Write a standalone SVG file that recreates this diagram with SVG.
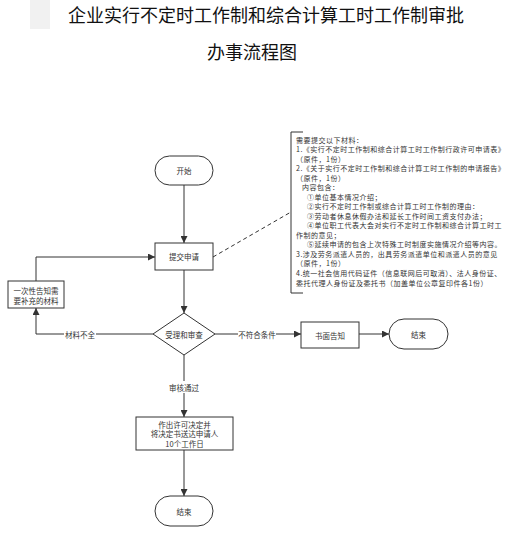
<svg xmlns="http://www.w3.org/2000/svg" width="524" height="548" viewBox="0 0 524 548">
<style>
.t{font-family:"Noto Sans CJK SC","Liberation Sans",sans-serif;fill:#333;}
.title{font-family:"Noto Sans CJK SC","Liberation Sans",sans-serif;fill:#111;font-size:18px;text-anchor:middle;}
.n{fill:#fff;stroke:#333;stroke-width:1;}
.nt{font-size:7.5px;text-anchor:middle;dominant-baseline:central;}
.ln{fill:none;stroke:#333;stroke-width:1;}
.lbl{font-size:7.5px;text-anchor:middle;dominant-baseline:central;}
.note{font-size:7px;letter-spacing:0.5px;}
</style>
<defs>
<marker id="ah" viewBox="0 0 10 10" refX="10" refY="5" markerWidth="7" markerHeight="7" markerUnits="userSpaceOnUse" orient="auto">
<path d="M0,0 L10,5 L0,10 z" fill="#333"/>
</marker>
</defs>
<rect width="524" height="548" fill="#fff"/>
<rect x="30" y="0" width="20" height="29" fill="#f1f1f1"/>
<text class="title" x="266" y="22">企业实行不定时工作制和综合计算工时工作制审批</text>
<text class="title" x="252" y="59">办事流程图</text>

<g id="connectors">
<line class="ln" x1="184" y1="185" x2="184" y2="243" marker-end="url(#ah)"/>
<line class="ln" x1="184" y1="270" x2="184" y2="313" marker-end="url(#ah)"/>
<polyline class="ln" points="153,334 36,334 36,308" marker-end="url(#ah)"/>
<polyline class="ln" points="36,281 36,257 155,257" marker-end="url(#ah)"/>
<line class="ln" x1="215" y1="334" x2="301" y2="334" marker-end="url(#ah)"/>
<line class="ln" x1="359" y1="334" x2="389" y2="334" marker-end="url(#ah)"/>
<line class="ln" x1="184" y1="355" x2="184" y2="417" marker-end="url(#ah)"/>
<line class="ln" x1="184" y1="450" x2="184" y2="496" marker-end="url(#ah)"/>
<line class="ln" x1="213" y1="257" x2="291" y2="212" stroke-dasharray="4,3"/>
<rect x="64" y="328" width="32" height="12" fill="#fff"/>
<text class="t lbl" x="80" y="334">材料不全</text>
<rect x="238" y="328" width="38" height="12" fill="#fff"/>
<text class="t lbl" x="257" y="334">不符合条件</text>
<rect x="168" y="381" width="32" height="12" fill="#fff"/>
<text class="t lbl" x="184" y="387">审核通过</text>
</g>

<g id="start">
<rect class="n" x="155" y="156" width="58" height="29" rx="14.5"/>
<text class="t nt" x="184" y="170.5">开始</text>
</g>
<g id="submit">
<rect class="n" x="155" y="243" width="58" height="27"/>
<text class="t nt" x="184" y="256.5">提交申请</text>
</g>
<g id="notify">
<rect class="n" x="8" y="281" width="56" height="27"/>
<text class="t nt" x="36" y="290">一次性告知需</text>
<text class="t nt" x="36" y="300">要补充的材料</text>
</g>
<g id="review">
<polygon class="n" points="184,313 215,334 184,355 153,334"/>
<text class="t nt" x="184" y="334">受理和审查</text>
</g>
<g id="written">
<rect class="n" x="301" y="322" width="58" height="26"/>
<text class="t nt" x="330" y="335">书面告知</text>
</g>
<g id="end1">
<rect class="n" x="389" y="319" width="59" height="30" rx="15"/>
<text class="t nt" x="418.5" y="334">结束</text>
</g>
<g id="decide">
<rect class="n" x="136" y="417" width="97" height="33"/>
<text class="t nt" x="184.5" y="424">作出许可决定并</text>
<text class="t nt" x="184.5" y="433.5">将决定书送达申请人</text>
<text class="t nt" x="184.5" y="443">10个工作日</text>
</g>
<g id="end2">
<rect class="n" x="155" y="496" width="58" height="30" rx="15"/>
<text class="t nt" x="184" y="511">结束</text>
</g>

<g id="note">
<polyline class="ln" points="303,132 291,132 291,293 303,293"/>
<text class="t note" x="296" y="142.5">需要提交以下材料：</text>
<text class="t note" x="296" y="152">1.《实行不定时工作制和综合计算工时工作制行政许可申请表》</text>
<text class="t note" x="296" y="161.6">（原件，1份）</text>
<text class="t note" x="296" y="171.1">2.《关于实行不定时工作制和综合计算工时工作制的申请报告》</text>
<text class="t note" x="296" y="180.6">（原件，1份）</text>
<text class="t note" x="302" y="190.2">内容包含：</text>
<text class="t note" x="307" y="199.7">①单位基本情况介绍；</text>
<text class="t note" x="307" y="209.2">②实行不定时工作制或综合计算工时工作制的理由：</text>
<text class="t note" x="307" y="218.7">③劳动者休息休假办法和延长工作时间工资支付办法；</text>
<text class="t note" x="307" y="228.3">④单位职工代表大会对实行不定时工作制和综合计算工时工</text>
<text class="t note" x="296" y="237.8">作制的意见；</text>
<text class="t note" x="307" y="247.3">⑤延续申请的包含上次特殊工时制度实施情况介绍等内容。</text>
<text class="t note" x="296" y="256.9">3.涉及劳务派遣人员的，出具劳务派遣单位和派遣人员的意见</text>
<text class="t note" x="296" y="266.4">（原件，1份）</text>
<text class="t note" x="296" y="275.9">4.统一社会信用代码证件（信息联网后可取消）、法人身份证、</text>
<text class="t note" x="296" y="285.5">委托代理人身份证及委托书（加盖单位公章复印件各1份）</text>
</g>
</svg>
